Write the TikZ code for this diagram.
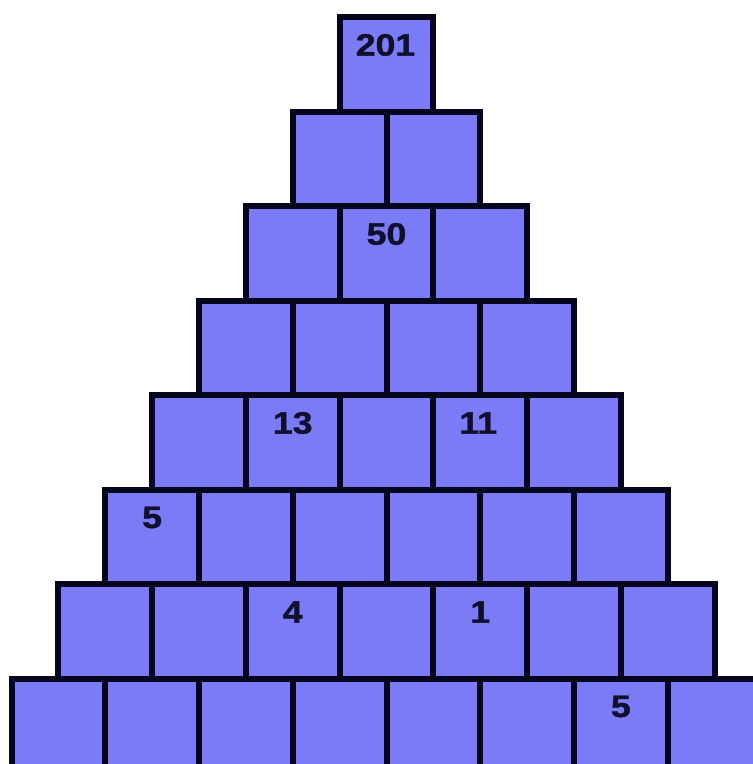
\documentclass[tikz,border=0pt]{standalone}
\usepackage{fontspec}
\setmainfont{Liberation Sans}[BoldFeatures={FakeBold=1.2}]
\definecolor{boxfill}{HTML}{7B7BF8}
\definecolor{edge}{HTML}{05051E}
\definecolor{numtxt}{HTML}{10102C}
\newcommand\wnum[1]{\scalebox{1.15}[1]{#1}}
\begin{document}
\begin{tikzpicture}[x=1pt,y=-1pt,
  cell/.style={draw=edge,fill=boxfill,line width=6pt,minimum width=93.75pt,minimum height=94.5pt,inner sep=0pt,outer sep=0pt},
  num/.style={text=numtxt,font=\bfseries\fontsize{31}{31}\selectfont,inner sep=0pt}]
\useasboundingbox (0,0) rectangle (753,764);
\clip (0,0) rectangle (753,764);
\foreach \r in {1,...,8}{
  \pgfmathtruncatemacro{\last}{\r-1}
  \foreach \k in {0,...,\last}{
    \node[cell] (b\r-\k) at ({11.5+46.875*(8-\r)+93.75*(\k+0.5)},{17+94.5*(\r-1)+47.25}) {};
  }
}
\node[num] (t201) at ([yshift=-28pt,xshift=-1pt]b1-0.north) {\wnum{201}};
\node[num] (t50) at ([yshift=-28pt]b3-1.north) {\wnum{50}};
\node[num] (t13) at ([yshift=-28pt]b5-1.north) {\wnum{13}};
\node[num] (t11) at ([yshift=-28pt,xshift=-2pt]b5-3.north) {\wnum{11}};
\node[num] (t5a) at ([yshift=-28pt]b6-0.north) {\wnum{5}};
\node[num] (t4) at ([yshift=-28pt]b7-2.north) {\wnum{4}};
\node[num] (t1) at ([yshift=-28pt]b7-4.north) {\wnum{1}};
\node[num] (t5b) at ([yshift=-28pt]b8-6.north) {\wnum{5}};
\end{tikzpicture}
\end{document}
